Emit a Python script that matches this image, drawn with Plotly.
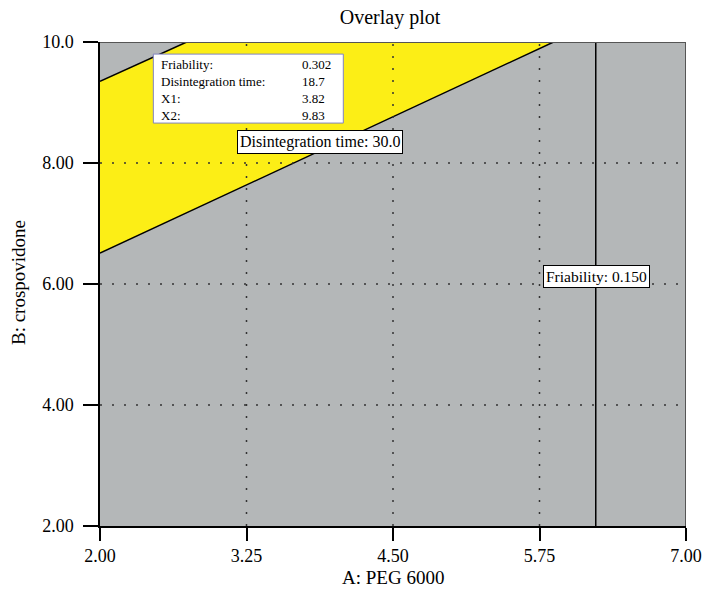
import plotly.graph_objects as go

# Contour boundaries (A: PEG 6000 on x, B: crospovidone on y)
upper_x = [2.00, 2.74]
upper_y = [9.35, 10.00]
lower_x = [2.00, 5.87]
lower_y = [6.51, 10.00]
friability_x = 6.23

# Axis ticks
x_ticks = [2.00, 3.25, 4.50, 5.75, 7.00]
x_ticktext = ["2.00", "3.25", "4.50", "5.75", "7.00"]
y_ticks = [2.0, 4.0, 6.0, 8.0, 10.0]
y_ticktext = ["2.00", "4.00", "6.00", "8.00", "10.0"]

# Flag readout
flag_labels = ["Friability:", "Disintegration time:", "X1:", "X2:"]
flag_values = ["0.302", "18.7", "3.82", "9.83"]

FONT = "Liberation Serif"
GRAY = "#b4b7b8"
YELLOW = "#fcee16"

fig = go.Figure()

# Feasible (yellow) region between the two disintegration-time contours
poly_x = lower_x + upper_x[::-1]
poly_y = lower_y + upper_y[::-1]
fig.add_trace(go.Scatter(x=poly_x, y=poly_y, fill="toself", fillcolor=YELLOW,
                         mode="lines", line=dict(width=0), hoverinfo="skip",
                         showlegend=False))

# Contour lines
for xs, ys in [(upper_x, upper_y), (lower_x, lower_y)]:
    fig.add_trace(go.Scatter(x=xs, y=ys, mode="lines",
                             line=dict(color="black", width=1.5),
                             showlegend=False, hoverinfo="skip"))
fig.add_trace(go.Scatter(x=[friability_x, friability_x], y=[2, 10], mode="lines",
                         line=dict(color="black", width=1.5),
                         showlegend=False, hoverinfo="skip"))

shapes = []
# Dotted grid lines drawn above the filled regions
for xv in x_ticks[1:-1]:
    shapes.append(dict(type="line", xref="x", yref="y", x0=xv, x1=xv, y0=2, y1=10,
                       line=dict(color="#333333", width=1.5, dash="2px,10px"),
                       layer="above"))
for yv in y_ticks[1:-1]:
    shapes.append(dict(type="line", xref="x", yref="y", x0=2, x1=7, y0=yv, y1=yv,
                       line=dict(color="#333333", width=1.5, dash="2px,10px"),
                       layer="above"))
# Top and right frame edges
shapes.append(dict(type="line", xref="x", yref="y", x0=2, x1=7, y0=10, y1=10,
                   line=dict(color="#555555", width=2), layer="above"))
shapes.append(dict(type="line", xref="x", yref="y", x0=7, x1=7, y0=2, y1=10,
                   line=dict(color="#555555", width=2), layer="above"))
# Flag box
shapes.append(dict(type="rect", xref="x", yref="y", x0=2.455, x1=4.076, y0=8.66, y1=9.80,
                   fillcolor="white", line=dict(color="#8083c0", width=1), layer="above"))

annotations = []
# Two-column flag readout
annotations.append(dict(x=2.503, y=9.785, xref="x", yref="y", text="<br>".join(flag_labels),
                        showarrow=False, xanchor="left", yanchor="top", align="left",
                        font=dict(family=FONT, size=13, color="black")))
annotations.append(dict(x=3.706, y=9.785, xref="x", yref="y", text="<br>".join(flag_values),
                        showarrow=False, xanchor="left", yanchor="top", align="left",
                        font=dict(family=FONT, size=13, color="black")))

annotations.append(dict(x=3.877, y=8.339, xref="x", yref="y", text="Disintegration time: 30.0",
                        showarrow=False, bgcolor="white", bordercolor="black", borderwidth=1,
                        borderpad=2, font=dict(family=FONT, size=16, color="black")))
annotations.append(dict(x=6.24, y=6.127, xref="x", yref="y", text="Friability: 0.150",
                        showarrow=False, bgcolor="white", bordercolor="black", borderwidth=1,
                        borderpad=2, font=dict(family=FONT, size=15.5, color="black")))

# Axis titles
annotations.append(dict(x=0.5, y=-0.107, xref="paper", yref="paper", text="A: PEG 6000",
                        showarrow=False, xanchor="center", yanchor="middle",
                        font=dict(family=FONT, size=19, color="black")))
annotations.append(dict(x=-0.140, y=0.504, xref="paper", yref="paper", text="B: crospovidone",
                        showarrow=False, xanchor="center", yanchor="middle", textangle=-90,
                        font=dict(family=FONT, size=19, color="black")))

fig.update_layout(
    width=704, height=594,
    margin=dict(l=100, r=18, t=42, b=68),
    paper_bgcolor="white", plot_bgcolor=GRAY,
    title=dict(text="Overlay plot", x=0.554, xanchor="center", y=0.971, yanchor="middle",
               font=dict(family=FONT, size=20, color="black")),
    font=dict(family=FONT, color="black"),
    shapes=shapes, annotations=annotations,
    showlegend=False,
)
fig.update_xaxes(range=[2, 7], tickvals=x_ticks, ticktext=x_ticktext, showgrid=False,
                 zeroline=False, showline=True, linecolor="black", linewidth=1.5,
                 ticks="outside", ticklen=13, tickwidth=1.5, tickcolor="black",
                 tickfont=dict(family=FONT, size=18, color="black"), automargin=False)
fig.update_yaxes(range=[2, 10], tickvals=y_ticks, ticktext=y_ticktext, showgrid=False,
                 zeroline=False, showline=True, linecolor="black", linewidth=1.5,
                 ticks="outside", ticklen=15, tickwidth=1.5, tickcolor="black",
                 ticklabelstandoff=6,
                 tickfont=dict(family=FONT, size=18, color="black"), automargin=False)

fig.write_html("out.html")
